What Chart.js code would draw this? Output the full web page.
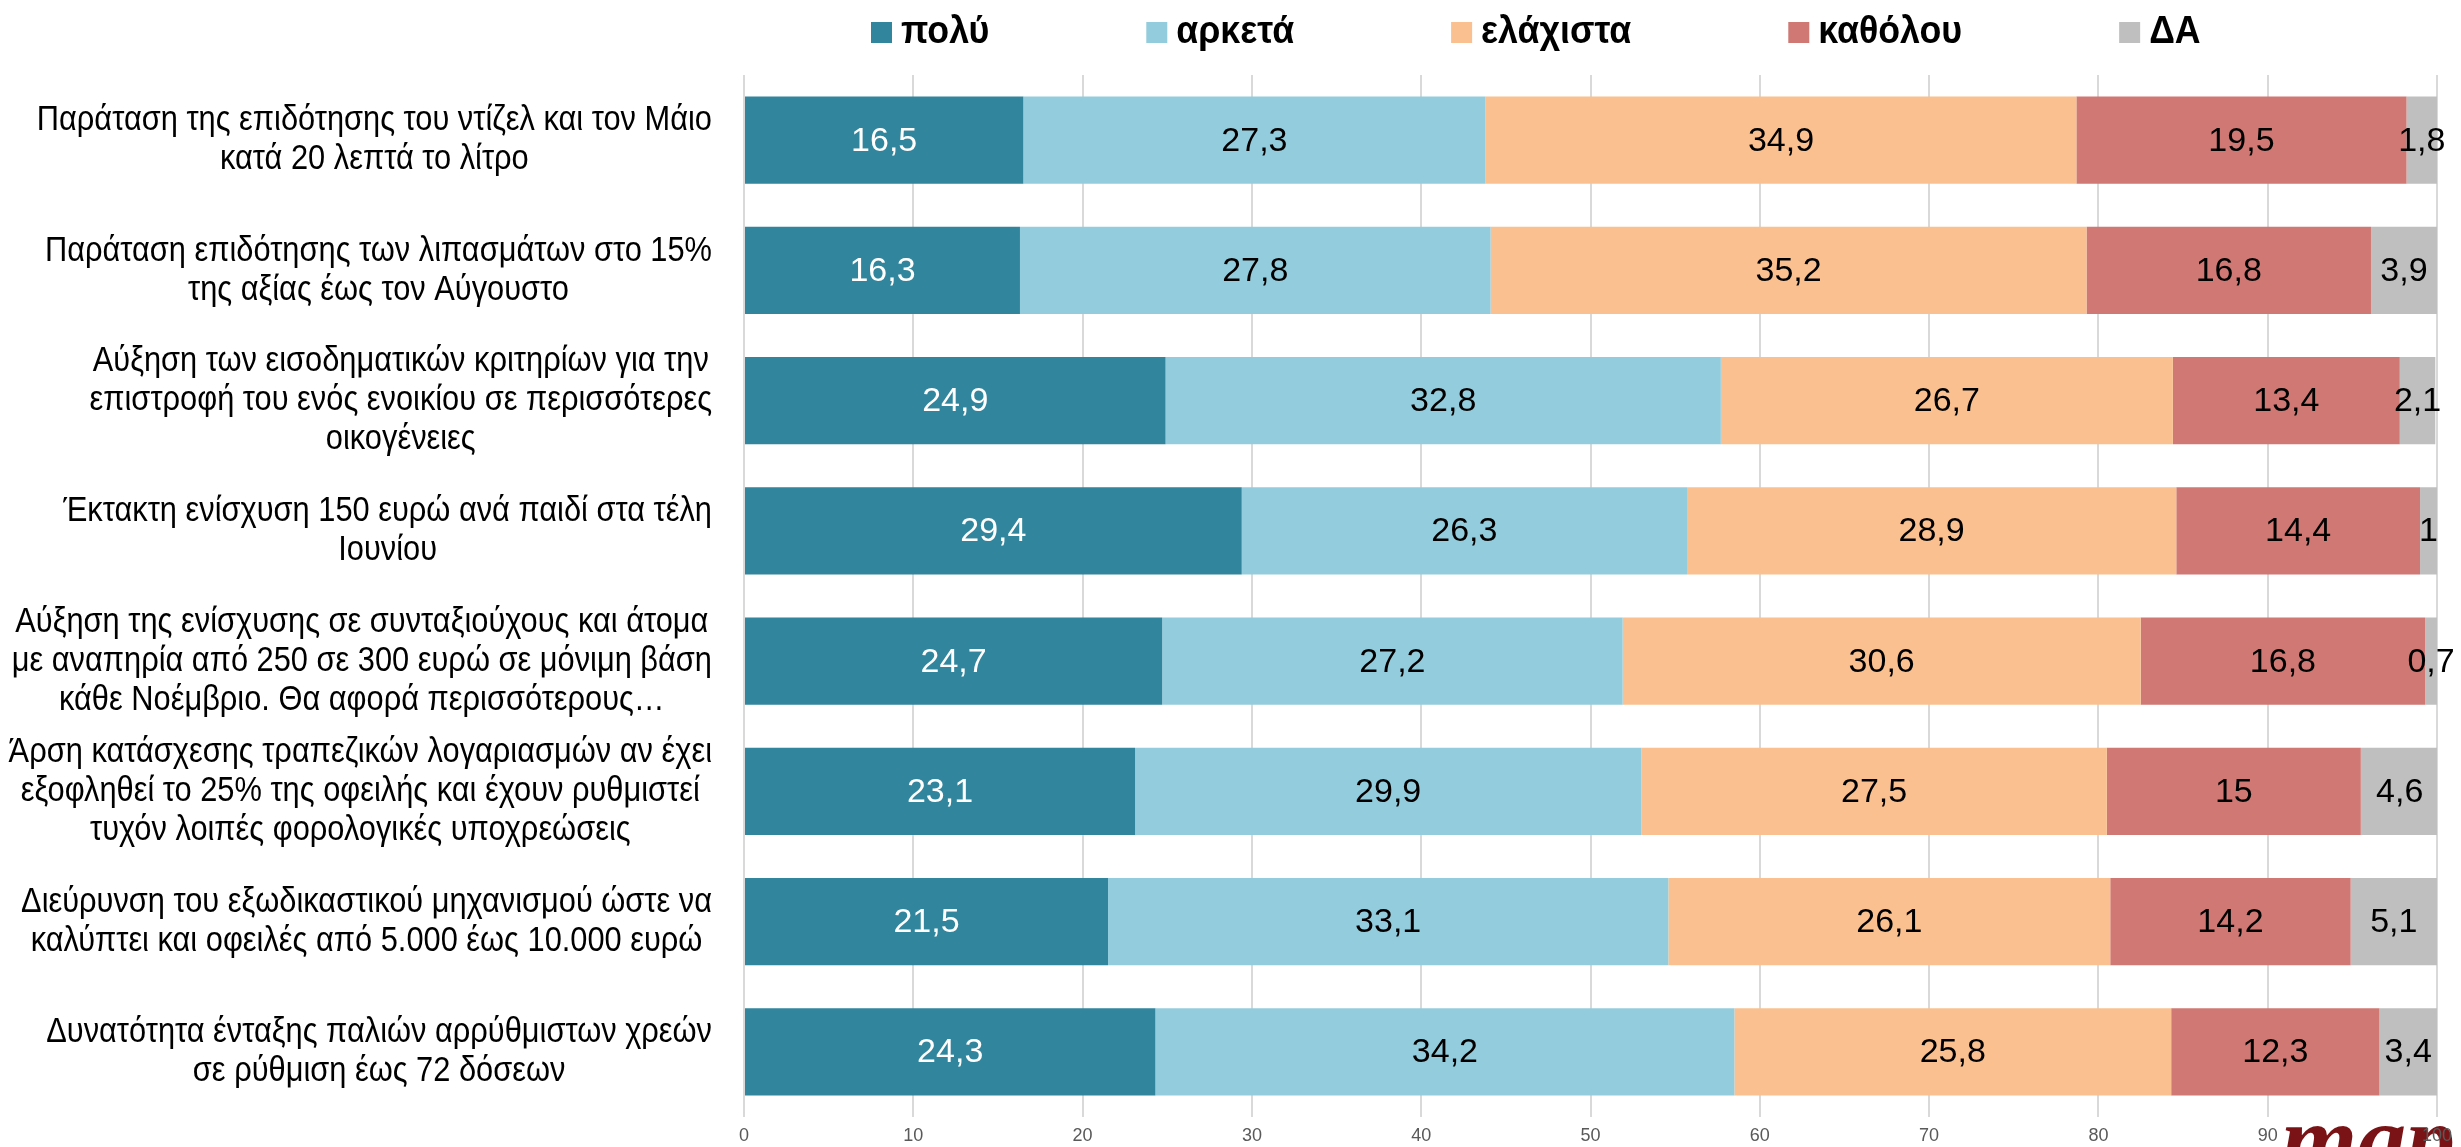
<!DOCTYPE html>
<html>
<head>
<meta charset="utf-8">
<script src="https://cdn.jsdelivr.net/npm/chart.js@4/dist/chart.umd.min.js"></script>
<style>
  html, body { margin: 0; padding: 0; background: #fff; }
  #wrap { width: 2461px; height: 1147px; position: relative; }
</style>
</head>
<body>
<div id="wrap"><canvas id="surveyChart"></canvas></div>
<script>
// categories (one array of lines per bar)
const categories = [
    ['Παράταση της επιδότησης του ντίζελ και τον Μάιο', 'κατά 20 λεπτά το λίτρο'],
    ['Παράταση επιδότησης των λιπασμάτων στο 15%', 'της αξίας έως τον Αύγουστο'],
    ['Αύξηση των εισοδηματικών κριτηρίων για την', 'επιστροφή του ενός ενοικίου σε περισσότερες', 'οικογένειες'],
    ['Έκτακτη ενίσχυση 150 ευρώ ανά παιδί στα τέλη', 'Ιουνίου'],
    ['Αύξηση της ενίσχυσης σε συνταξιούχους και άτομα', 'με αναπηρία από 250 σε 300 ευρώ σε μόνιμη βάση', 'κάθε Νοέμβριο. Θα αφορά περισσότερους…'],
    ['Άρση κατάσχεσης τραπεζικών λογαριασμών αν έχει', 'εξοφληθεί το 25% της οφειλής και έχουν ρυθμιστεί', 'τυχόν λοιπές φορολογικές υποχρεώσεις'],
    ['Διεύρυνση του εξωδικαστικού μηχανισμού ώστε να', 'καλύπτει και οφειλές από 5.000 έως 10.000 ευρώ'],
    ['Δυνατότητα ένταξης παλιών αρρύθμιστων χρεών', 'σε ρύθμιση έως 72 δόσεων']
];

const seriesNames = ['πολύ', 'αρκετά', 'ελάχιστα', 'καθόλου', 'ΔΑ'];

const poly     = [16.5, 16.3, 24.9, 29.4, 24.7, 23.1, 21.5, 24.3];
const arketa   = [27.3, 27.8, 32.8, 26.3, 27.2, 29.9, 33.1, 34.2];
const elaxista = [34.9, 35.2, 26.7, 28.9, 30.6, 27.5, 26.1, 25.8];
const katholou = [19.5, 16.8, 13.4, 14.4, 16.8, 15, 14.2, 12.3];
const da       = [1.8, 3.9, 2.1, 1, 0.7, 4.6, 5.1, 3.4];

const xTicks = [0, 10, 20, 30, 40, 50, 60, 70, 80, 90, 100];

const colors = ['#31859C', '#93CDDD', '#FAC090', '#D07874', '#BFBFBF'];
const labelColors = ['#ffffff', '#000000', '#000000', '#000000', '#000000'];

// the original face is a bit narrower than Arial, so squeeze Liberation Sans
const SANS = '"Liberation Sans", Arial, sans-serif';
const SQUEEZE = 0.88;
const LEGEND_SQUEEZE = 0.94;

function squeezedText(ctx, text, x, y, k) {
    ctx.save();
    ctx.translate(x, y);
    ctx.scale(k, 1);
    ctx.fillText(text, 0, 0);
    ctx.restore();
}

// legend drawn on top, Excel-like spacing
const topLegend = {
    id: 'topLegend',
    afterDraw(chart) {
        const ctx = chart.ctx;
        ctx.save();
        ctx.font = 'bold 38px ' + SANS;
        ctx.textBaseline = 'alphabetic';
        ctx.textAlign = 'left';
        const box = 21, gap = 9, spacing = 157;
        let x = 871;
        const base = 43;
        chart.data.datasets.forEach(ds => {
            const w = ctx.measureText(ds.label).width * LEGEND_SQUEEZE;
            ctx.fillStyle = ds.backgroundColor;
            ctx.fillRect(x, base - box, box, box);
            ctx.fillStyle = '#000';
            squeezedText(ctx, ds.label, x + box + gap, base, LEGEND_SQUEEZE);
            x += box + gap + w + spacing;
        });
        ctx.restore();
    }
};

// category labels: block right aligned to axis, lines centred inside
const catLabels = {
    id: 'catLabels',
    afterDraw(chart) {
        const ctx = chart.ctx;
        const ys = chart.scales.y;
        const right = ys.right - 32;
        const lh = 39;
        ctx.save();
        ctx.font = '35px ' + SANS;
        ctx.fillStyle = '#000';
        ctx.textAlign = 'center';
        ctx.textBaseline = 'middle';
        chart.data.labels.forEach((lines, i) => {
            const yc = ys.getPixelForTick(i);
            const widest = Math.max(...lines.map(l => ctx.measureText(l).width)) * SQUEEZE;
            const cx = right - widest / 2;
            const y0 = yc - (lines.length - 1) * lh / 2;
            lines.forEach((l, j) => squeezedText(ctx, l, cx, y0 + j * lh, SQUEEZE));
        });
        ctx.restore();
    }
};

// values inside bars
const barValues = {
    id: 'barValues',
    afterDatasetsDraw(chart) {
        const ctx = chart.ctx;
        ctx.save();
        ctx.font = '34px ' + SANS;
        ctx.textAlign = 'center';
        ctx.textBaseline = 'middle';
        chart.data.datasets.forEach((ds, di) => {
            const meta = chart.getDatasetMeta(di);
            ctx.fillStyle = labelColors[di];
            meta.data.forEach((bar, i) => {
                const v = ds.data[i];
                const cx = (bar.x + bar.base) / 2;
                ctx.fillText(String(v).replace('.', ','), cx, bar.y + 1);
            });
        });
        ctx.restore();
    }
};

// publisher mark, bottom right (partly cut off by the page edge)
const logoMark = {
    id: 'logoMark',
    beforeDraw(chart) {
        const ctx = chart.ctx;
        ctx.save();
        ctx.fillStyle = '#ffffff';
        ctx.fillRect(0, 0, chart.width, chart.height);
        ctx.font = 'italic bold 98px "Liberation Serif", "DejaVu Serif", serif';
        ctx.fillStyle = '#7A1315';
        ctx.textBaseline = 'alphabetic';
        ctx.textAlign = 'left';
        ctx.fillText('map', 2281, 1172);
        ctx.restore();
    }
};

const datasets = [poly, arketa, elaxista, katholou, da].map((arr, i) => ({
    label: seriesNames[i],
    data: arr,
    backgroundColor: colors[i],
    borderWidth: 0,
    barPercentage: 0.67,
    categoryPercentage: 1
}));

new Chart(document.getElementById('surveyChart').getContext('2d'), {
    type: 'bar',
    data: { labels: categories, datasets: datasets },
    options: {
        responsive: true,
        maintainAspectRatio: false,
        animation: false,
        indexAxis: 'y',
        layout: { padding: { top: 75, right: 24, left: 0, bottom: 0 } },
        plugins: {
            legend: { display: false },
            tooltip: { enabled: false }
        },
        scales: {
            x: {
                stacked: true,
                min: 0,
                max: 100,
                afterBuildTicks(scale) {
                    scale.ticks = xTicks.map(v => ({ value: v }));
                },
                afterFit(scale) { scale.height = 30; },
                grid: { color: '#d9d9d9', lineWidth: 2, drawTicks: false },
                border: { display: false },
                ticks: {
                    padding: 8,
                    color: '#595959',
                    font: { family: SANS, size: 18 }
                }
            },
            y: {
                stacked: true,
                afterFit(scale) { scale.width = 744; },
                grid: { display: false },
                border: { display: false },
                ticks: { display: false }
            }
        }
    },
    plugins: [logoMark, barValues, catLabels, topLegend]
});
</script>
</body>
</html>
